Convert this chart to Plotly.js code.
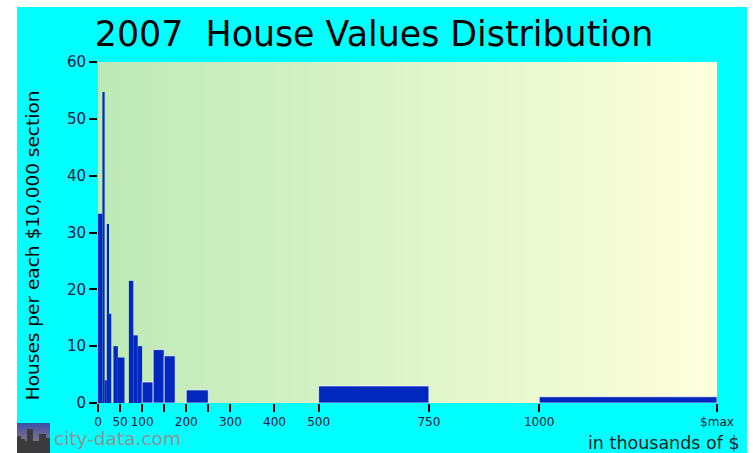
<!DOCTYPE html>
<html>
<head>
<meta charset="utf-8">
<script src="https://cdn.plot.ly/plotly-3.0.1.min.js"></script>
<style>
html,body{margin:0;padding:0;background:#fff;width:753px;height:453px;overflow:hidden}
#chart{position:absolute;left:17px;top:7px;width:730px;height:446px}
</style>
</head>
<body>
<div id="chart"></div>
<script>
const binStart = [0, 10, 15, 20, 25, 35, 45, 70, 80, 90, 100, 125, 150, 200, 500, 1000];
const binEnd   = [10, 15, 20, 25, 30, 45, 60, 80, 90, 100, 125, 150, 175, 250, 750, 1403];
const houses   = [33.3, 54.7, 4, 31.5, 15.7, 10, 8, 21.5, 11.9, 10, 3.7, 9.4, 8.3, 2.3, 3, 1.1];
const tickValues = [0, 50, 100, 150, 200, 250, 300, 400, 500, 750, 1000, 1403];
const tickLabels = ['0', '50', '100', '', '200', '', '300', '400', '500', '750', '1000', '$max'];
const yTicks = [0, 10, 20, 30, 40, 50, 60];
const backdropX = [0, 1403];
const backdropY = [0, 60];
const backdropZ = [[0, 1], [0, 1]];

const logo = 'data:image/svg+xml;utf8,' + encodeURIComponent(
 '<svg xmlns="http://www.w3.org/2000/svg" width="33" height="30" viewBox="0 0 33 30">' +
 '<defs><linearGradient id="g" x1="0" y1="0" x2="0" y2="1"><stop offset="0" stop-color="#3a4fa8"/><stop offset="0.55" stop-color="#7d6f8c"/><stop offset="1" stop-color="#a58a5a"/></linearGradient></defs>' +
 '<rect width="33" height="30" fill="url(#g)"/>' +
 '<path d="M0 13H4V16H8V18H10V6H16V18H22V11H29V15H33V30H0Z" fill="#3b3a3c"/></svg>');

const traces = [
 {type:'heatmap', x:backdropX, y:backdropY, z:backdropZ, zsmooth:'best', showscale:false, hoverinfo:'skip',
  zmin:0, zmax:1, colorscale:[[0,'rgb(189,233,183)'],[1,'rgb(255,255,220)']]},
 {type:'bar', x:binStart.map((s,i)=>(s+binEnd[i])/2), y:houses, width:binStart.map((s,i)=>binEnd[i]-s),
  marker:{color:'#0028be', line:{color:'rgba(255,255,255,0.7)', width:binStart.map((s,i)=>binEnd[i]-s>=25?1:0)}}}
];

const layout = {
 width:730, height:446,
 margin:{l:81, r:30, t:55, b:50, pad:0},
 paper_bgcolor:'#00ffff', plot_bgcolor:'#00ffff',
 showlegend:false, bargap:0,
 font:{family:'DejaVu Sans', color:'#000'},
 title:{text:'2007  House Values Distribution', font:{family:'DejaVu Sans', size:34.8, color:'#000'},
        x:0.446, xref:'paper', xanchor:'center', y:0.94, yanchor:'middle'},
 xaxis:{range:[0,1403], tickmode:'array', tickvals:tickValues, ticktext:tickLabels, ticks:'outside',
        ticklen:8, tickwidth:2, tickcolor:'#000', showgrid:false, zeroline:false, showline:false,
        tickfont:{size:12, color:'#002040'}, tickangle:0, layer:'above traces'},
 yaxis:{range:[0,60], tickmode:'array', tickvals:yTicks, ticks:'outside', ticklen:8, tickwidth:2, tickcolor:'#000',
        showgrid:false, zeroline:false, showline:false, tickfont:{size:15, color:'#002040'}},
 annotations:[
  {text:'Houses per each $10,000 section', xref:'paper', yref:'paper', x:-0.1066, y:0.463, xanchor:'center', yanchor:'middle',
   textangle:-90, showarrow:false, font:{size:18.5, color:'#000'}},
  {text:'in thousands of $', xref:'paper', yref:'paper', x:1.0404, y:-0.117, xanchor:'right', yanchor:'middle',
   showarrow:false, font:{size:17.5, color:'#222'}},
  {text:'city-data.com', xref:'paper', yref:'paper', x:-0.075, y:-0.105, xanchor:'left', yanchor:'middle',
   showarrow:false, font:{size:18.5, color:'#929292'}}
 ],
 images:[{source:logo, xref:'paper', yref:'paper', x:-81/619, y:-20/341, sizex:33/619, sizey:30/341,
          sizing:'stretch', xanchor:'left', yanchor:'top', layer:'above'}]
};
Plotly.newPlot('chart', traces, layout, {displayModeBar:false, staticPlot:true});
</script>
</body>
</html>
